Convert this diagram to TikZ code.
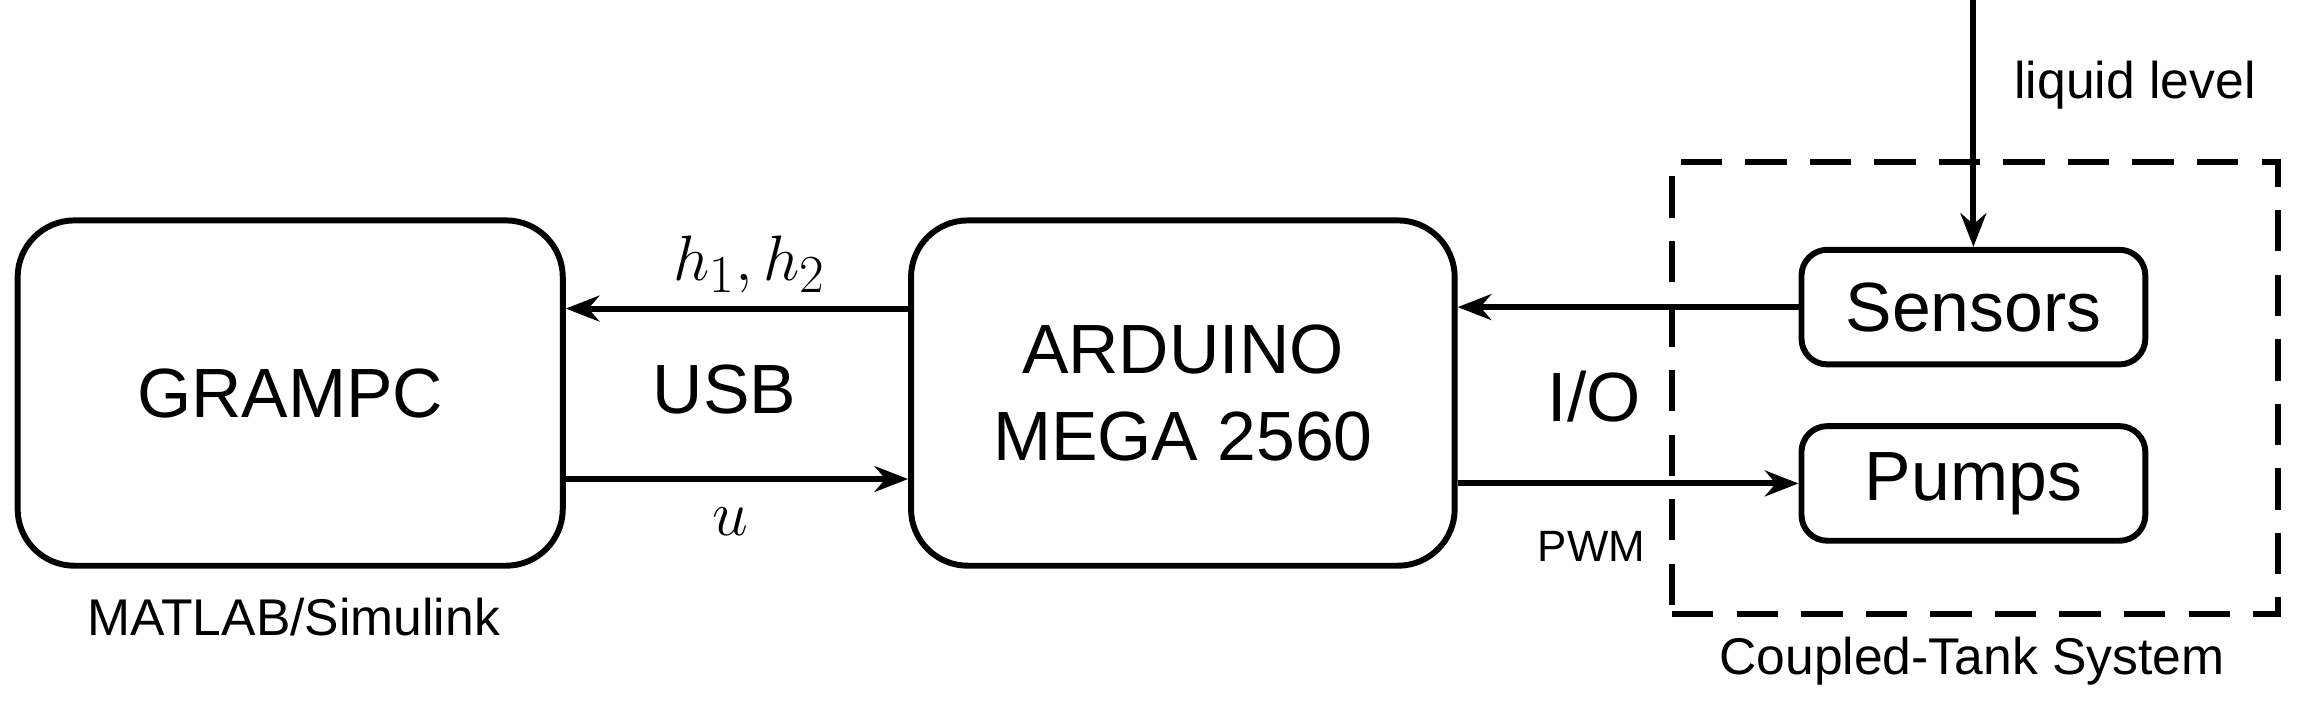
\documentclass[tikz,border=0pt]{standalone}
\usepackage{fontspec}
\setmainfont{Liberation Sans}
\usetikzlibrary{arrows.meta}
\begin{document}
\begin{tikzpicture}[x=0.02cm,y=-0.02cm,
  blk/.style={draw,line width=2.3pt,rounded corners=22pt,inner sep=0pt},
  sblk/.style={draw,line width=2.3pt,rounded corners=10pt,inner sep=0pt},
  arr/.style={-{Stealth[length=13pt,width=10pt]},line width=2.3pt},
  big/.style={font=\fontsize{27}{34}\selectfont},
  mid/.style={font=\fontsize{20}{24}\selectfont},
  small/.style={font=\fontsize{17}{20}\selectfont}]
\useasboundingbox (0,0) rectangle (1568,480);
\node[blk,minimum width=371*0.02cm,minimum height=235*0.02cm,big] (g) at (197.5,267.5) {GRAMPC};
\node[blk,minimum width=370*0.02cm,minimum height=235*0.02cm,big,align=center] (a) at (805,267.5) {ARDUINO\\MEGA 2560};
\node[sblk,minimum width=234*0.02cm,minimum height=78*0.02cm,big] (s) at (1343,209) {Sensors};
\node[sblk,minimum width=234*0.02cm,minimum height=78*0.02cm,big] (p) at (1343,329) {Pumps};
\node[draw,dash pattern=on 16pt off 9pt,line width=2.3pt,minimum width=412*0.02cm,minimum height=308*0.02cm] (d) at (1344,264) {};
\node[mid] (ml) at (200,420) {MATLAB/Simulink};
\node[mid] (ct) at (1342,450) {Coupled-Tank System};
\node[big] (usb) at (493,265) {USB};
\node[big] (io) at (1085,270) {I/O};
\node[small] (pwm) at (1083,372) {PWM};
\node[mid] (ll) at (1453,58) {liquid level};
\node[font=\fontsize{30}{34}\selectfont] (h) at (510,180) {$h_1,h_2$};
\node[font=\fontsize{40}{44}\selectfont] (u) at (497,355) {$u$};
\coordinate (top) at (1343,0);
\draw[arr] (a.west|-0,210) -- (g.east|-0,210);
\draw[arr] (g.east|-0,326) -- (a.west|-0,326);
\draw[arr] (s.west) -- (a.east|-s.west);
\draw[arr] (a.east|-p.west) -- (p.west);
\draw[arr] (top) -- (s.north);
\end{tikzpicture}
\end{document}
